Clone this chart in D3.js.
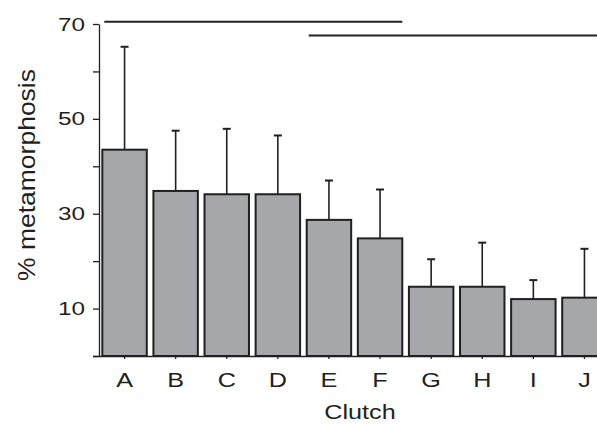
<!DOCTYPE html>
<html>
<head>
<meta charset="utf-8">
<script src="https://cdn.jsdelivr.net/npm/d3@7"></script>
<style>
  html,body{margin:0;padding:0;background:#fff;}
  svg{display:block;font-family:"Liberation Sans",Arial,Helvetica,sans-serif;}
</style>
</head>
<body>
<div id="chart"></div>
<script>
// clutch categories, mean % metamorphosis and upper error (mean + SE)
var clutches=["A","B","C","D","E","F","G","H","I","J"];
var meanPct=[43.5,34.8,34.1,34.1,28.7,24.8,14.6,14.6,12.0,12.3];
var upperPct=[65.2,47.5,47.9,46.5,37.0,35.1,20.4,23.9,16.0,22.6];
var yTicks=[10,30,50,70];
var yMinorTicks=[0,20,40,60];
// homogeneous groups (first/last clutch + bracket level)
var groups=[{from:"A",to:"F",level:70.5},{from:"E",to:"J",level:67.6}];

var W=597,H=424, ink="#231f20";
var svg=d3.select("#chart").append("svg").attr("width",W).attr("height",H);

var x=d3.scaleBand().domain(clutches).range([99,610]).paddingInner(0.13).paddingOuter(0.065);
var y=d3.scaleLinear().domain([0,70]).range([356,24]);

// bars
svg.append("g").selectAll("rect").data(clutches).enter().append("rect")
    .attr("x",function(d){return x(d);}).attr("width",x.bandwidth())
    .attr("y",function(d,i){return y(meanPct[i]);})
    .attr("height",function(d,i){return y(0)-y(meanPct[i]);})
    .attr("fill","#a6a7aa").attr("stroke",ink).attr("stroke-width",2);

// error bars (upper only)
var eb=svg.append("g").attr("stroke",ink).attr("stroke-width",1.6);
clutches.forEach(function(d,i){
    var cx=x(d)+x.bandwidth()/2;
    eb.append("line").attr("x1",cx).attr("x2",cx).attr("y1",y(meanPct[i])).attr("y2",y(upperPct[i]));
    eb.append("line").attr("x1",cx-4).attr("x2",cx+4).attr("y1",y(upperPct[i])).attr("y2",y(upperPct[i])).attr("stroke-width",2);
});

// group lines
svg.append("g").selectAll("line").data(groups).enter().append("line")
    .attr("x1",function(d){return x(d.from)+2;}).attr("x2",function(d){return x(d.to)+x.bandwidth();})
    .attr("y1",function(d){return y(d.level);}).attr("y2",function(d){return y(d.level);})
    .attr("stroke",ink).attr("stroke-width",2);

// y axis
var ya=svg.append("g").attr("transform","translate(99,0)");
ya.call(d3.axisLeft(y).tickValues(yTicks).tickSize(6).tickSizeOuter(0));
ya.append("g").call(d3.axisLeft(y).tickValues(yMinorTicks).tickSize(6).tickFormat("")).select(".domain").remove();
ya.selectAll("line,path").attr("stroke",ink).attr("stroke-width",1.3);
ya.selectAll("text").attr("font-size",19).attr("fill",ink)
    .attr("x",-14/1.28).attr("transform","scale(1.28,1)");

// x axis
var xa=svg.append("g").attr("transform","translate(0,356)");
xa.call(d3.axisBottom(x).tickSize(3).tickPadding(13).tickSizeOuter(0));
xa.select(".domain").attr("d","M93,0.5H597");
xa.selectAll("line,path").attr("stroke",ink).attr("stroke-width",1.3);
xa.selectAll("text").attr("font-size",21).attr("fill",ink).attr("transform","scale(1.2,1)");

svg.append("g").attr("transform","translate(360,419) scale(1.2,1)")
    .append("text").attr("text-anchor","middle")
    .attr("font-size",21).attr("fill",ink).text("Clutch");
svg.append("text").attr("transform","translate(35,175) rotate(-90)").attr("text-anchor","middle")
    .attr("font-size",24).attr("textLength",212).attr("lengthAdjust","spacingAndGlyphs")
    .attr("fill",ink).text("% metamorphosis");
</script>
</body>
</html>
